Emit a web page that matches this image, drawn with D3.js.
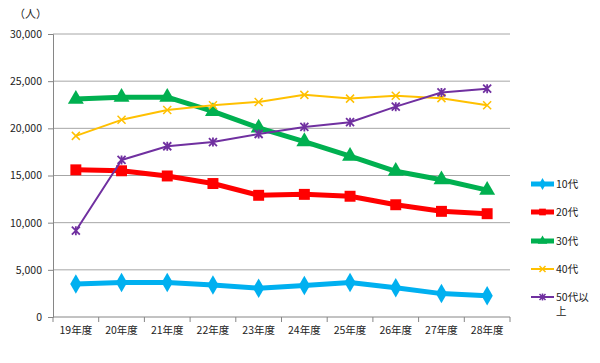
<!DOCTYPE html>
<html>
<head>
<meta charset="utf-8">
<script src="https://cdn.jsdelivr.net/npm/d3@7"></script>
<style>
  body { margin: 0; background: #fff; }
  svg text { font-family: "Noto Sans CJK JP", "Noto Sans", sans-serif; fill: #222; }
</style>
</head>
<body>
<div id="chart"></div>
<script>
// categories and values
const years = ["19年度", "20年度", "21年度", "22年度", "23年度", "24年度", "25年度", "26年度", "27年度", "28年度"];
const age10 = [3500, 3650, 3650, 3400, 3050, 3350, 3650, 3100, 2480, 2250];
const age20 = [15600, 15500, 14950, 14150, 12900, 13000, 12800, 11900, 11200, 10950];
const age30 = [23100, 23300, 23300, 21800, 20050, 18600, 17050, 15450, 14550, 13450];
const age40 = [19200, 20900, 21950, 22450, 22800, 23550, 23150, 23450, 23200, 22450];
const age50 = [9150, 16650, 18100, 18550, 19400, 20150, 20650, 22300, 23800, 24200];
const yTicks = [0, 5000, 10000, 15000, 20000, 25000, 30000];

const series = [
  {name: "10代", values: age10, color: "#00B0F0", width: 5, marker: "diamond"},
  {name: "20代", values: age20, color: "#FF0000", width: 5, marker: "square"},
  {name: "30代", values: age30, color: "#00B050", width: 5, marker: "triangle"},
  {name: "40代", values: age40, color: "#FFC000", width: 2, marker: "x"},
  {name: "50代以上", values: age50, color: "#7030A0", width: 2, marker: "star"}
];

const W = 600, H = 363;
const margin = {top: 34, left: 53, right: 90, bottom: 46};

const svg = d3.select("#chart").append("svg")
  .attr("width", W)
  .attr("height", H);

const x = d3.scaleBand()
  .domain(years)
  .range([margin.left, W - margin.right]);

const y = d3.scaleLinear()
  .domain([0, 30000])
  .range([H - margin.bottom, margin.top]);

// grid lines
svg.append("g")
  .selectAll("line")
  .data(yTicks.slice(1))
  .enter().append("line")
    .attr("x1", margin.left)
    .attr("x2", W - margin.right)
    .attr("y1", d => y(d))
    .attr("y2", d => y(d))
    .attr("stroke", "#a6a6a6")
    .attr("stroke-width", 1);

// y axis
const yAxis = svg.append("g")
  .attr("transform", `translate(${margin.left},0)`)
  .call(d3.axisLeft(y).tickValues(yTicks).tickFormat(d3.format(",")).tickSize(5).tickPadding(6));
yAxis.selectAll("line, path").attr("stroke", "#868686");
yAxis.selectAll("text").style("font-size", "10.5px").attr("fill", "#222");

// x axis, ticks between categories
const xAxisG = svg.append("g")
  .attr("transform", `translate(0,${y(0)})`);
xAxisG.append("line")
  .attr("x1", margin.left)
  .attr("x2", W - margin.right)
  .attr("stroke", "#868686");
xAxisG.selectAll(".tk")
  .data(years.concat(["end"]))
  .enter().append("line")
    .attr("x1", (d, i) => margin.left + i * x.bandwidth())
    .attr("x2", (d, i) => margin.left + i * x.bandwidth())
    .attr("y1", 0)
    .attr("y2", 5)
    .attr("stroke", "#868686");
xAxisG.selectAll("text")
  .data(years)
  .enter().append("text")
    .attr("x", d => x(d) + x.bandwidth() / 2)
    .attr("y", 17)
    .attr("text-anchor", "middle")
    .style("font-size", "10.5px")
    .text(d => d);

// unit label
svg.append("text")
  .attr("x", 14)
  .attr("y", 18)
  .style("font-size", "11px")
  .text("（人）");

function drawMarker(g, type, color, cx, cy) {
  if (type === "diamond") {
    g.append("path")
      .attr("d", d3.symbol(d3.symbolDiamond, 110)())
      .attr("transform", `translate(${cx},${cy})`)
      .attr("fill", color);
  } else if (type === "square") {
    g.append("path")
      .attr("d", d3.symbol(d3.symbolSquare, 120)())
      .attr("transform", `translate(${cx},${cy})`)
      .attr("fill", color);
  } else if (type === "triangle") {
    g.append("path")
      .attr("d", d3.symbol(d3.symbolTriangle, 110)())
      .attr("transform", `translate(${cx},${cy})`)
      .attr("fill", color);
  } else if (type === "x") {
    g.append("path")
      .attr("d", "M-4,-4L4,4M-4,4L4,-4")
      .attr("transform", `translate(${cx},${cy})`)
      .attr("stroke", color)
      .attr("stroke-width", 1.5)
      .attr("fill", "none");
  } else if (type === "star") {
    g.append("path")
      .attr("d", "M-4,-4L4,4M-4,4L4,-4M0,-4.5L0,4.5")
      .attr("transform", `translate(${cx},${cy})`)
      .attr("stroke", color)
      .attr("stroke-width", 1.8)
      .attr("fill", "none");
  }
}

const line = d3.line()
  .x((d, i) => x(years[i]) + x.bandwidth() / 2)
  .y(d => y(d));

series.forEach(s => {
  const g = svg.append("g");
  g.append("path")
    .datum(s.values)
    .attr("d", line)
    .attr("fill", "none")
    .attr("stroke", s.color)
    .attr("stroke-width", s.width)
    .attr("stroke-linejoin", "round");
  s.values.forEach((v, i) => {
    drawMarker(g, s.marker, s.color, x(years[i]) + x.bandwidth() / 2, y(v));
  });
});

// legend
const legendY = [184, 212, 241, 269, 297];
series.forEach((s, i) => {
  const g = svg.append("g");
  g.append("line")
    .attr("x1", 531)
    .attr("x2", 554)
    .attr("y1", legendY[i])
    .attr("y2", legendY[i])
    .attr("stroke", s.color)
    .attr("stroke-width", s.width);
  const mType = s.marker;
  const ms = {diamond: 40, square: 45, triangle: 40};
  if (ms[mType]) {
    g.append("path")
      .attr("d", d3.symbol(mType === "diamond" ? d3.symbolDiamond : mType === "square" ? d3.symbolSquare : d3.symbolTriangle, ms[mType])())
      .attr("transform", `translate(542.5,${legendY[i]})`)
      .attr("fill", s.color);
  } else {
    g.append("path")
      .attr("d", mType === "x" ? "M-3,-3L3,3M-3,3L3,-3" : "M-3,-3L3,3M-3,3L3,-3M0,-3.5L0,3.5")
      .attr("transform", `translate(542.5,${legendY[i]})`)
      .attr("stroke", s.color)
      .attr("stroke-width", 1.5);
  }
  if (s.name === "50代以上") {
    g.append("text").attr("x", 556).attr("y", legendY[i] + 4).style("font-size", "10.5px").text("50代以");
    g.append("text").attr("x", 556).attr("y", legendY[i] + 18).style("font-size", "10.5px").text("上");
  } else {
    g.append("text").attr("x", 556).attr("y", legendY[i] + 4).style("font-size", "10.5px").text(s.name);
  }
});
</script>
</body>
</html>
